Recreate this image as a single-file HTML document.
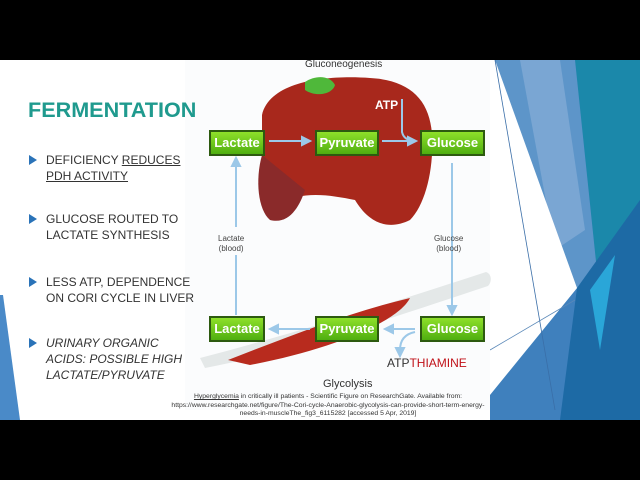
<!DOCTYPE html>
<html><head><meta charset="utf-8"><style>
body{margin:0;width:640px;height:480px;background:#000;overflow:hidden;position:relative;font-family:"Liberation Sans",sans-serif}
.slide{position:absolute;left:0;top:60px;width:640px;height:360px;background:#fff;overflow:hidden}
.t{position:absolute;white-space:nowrap}
.title{left:28px;top:37px;font-size:21.6px;font-weight:bold;color:#1f9a8e;letter-spacing:0px}
.b{left:46px;font-size:12px;color:#333;line-height:16px}
.bul{position:absolute;left:29px;width:0;height:0;border-left:8px solid #2a73b8;border-top:5px solid transparent;border-bottom:5px solid transparent}
.g{position:absolute;height:22px;background:linear-gradient(#8ee02a,#4fae10);border:2px solid #2d5a10;color:#fff;font-weight:bold;font-size:13px;line-height:22px;text-align:center;box-sizing:content-box}
.s{font-size:8px;color:#444;text-align:center}
</style></head><body>
<div class="slide">
<svg width="640" height="360" style="position:absolute;left:0;top:0">
<rect x="490" y="0" width="150" height="360" fill="#2f78b3"/>
<polygon points="575,0 640,0 640,170 600,240" fill="#1b88aa"/>
<polygon points="495,0 575,0 600,240 577,228 540,160" fill="#5d95c9"/>
<polygon points="520,0 560,0 585,170 555,190" fill="#7aa6d3"/>
<polygon points="520,120 577,228 530,300" fill="#a9c6e6"/>
<polygon points="577,228 640,140 640,360 540,360" fill="#1d6aa5"/>
<polygon points="590,230 615,195 600,290" fill="#2aa6d8"/>
<polygon points="490,335 577,228 560,360 490,360" fill="#3f80bd"/>
<polygon points="490,0 495,0 577,228 490,335" fill="#fff"/>
<line x1="495" y1="0" x2="555" y2="350" stroke="#3a6ea8" stroke-width="0.8"/>
<line x1="490" y1="290" x2="575" y2="240" stroke="#5a88b8" stroke-width="0.8"/>
<polygon points="0,235 3,235 20,360 0,360" fill="#4a8ac8"/>
<rect x="185" y="0" width="305" height="350" fill="#fbfcfd"/>
<path d="M262,55 C270,20 330,15 370,18 C410,20 430,40 432,75 C434,110 425,145 410,160 C390,170 370,165 355,140 C330,135 300,130 280,145 C260,170 268,140 262,110 Z" fill="#a8281c"/>
<path d="M262,95 C255,120 258,150 270,160 C290,165 300,145 305,130 Z" fill="#8a2a2a"/>
<path d="M305,22 C315,15 330,15 335,25 C332,35 315,37 305,30Z" fill="#4fb83a"/>
<path d="M200,298 C300,272 400,240 486,212 C492,214 492,222 488,226 C400,255 300,290 205,308 Z" fill="#e4e8e8"/>
<path d="M228,300 C290,276 350,252 410,238 C398,262 330,290 250,305 Z" fill="#b82b1e"/>
<g stroke="#9cc8e8" stroke-width="2" fill="#9cc8e8">
<line x1="269" y1="81" x2="305" y2="81"/><polygon points="310,81 302,77 302,85"/>
<line x1="382" y1="81" x2="410" y2="81"/><polygon points="416,81 408,77 408,85"/>
<line x1="236" y1="167" x2="236" y2="103"/><polygon points="236,98 232,106 240,106"/>
<line x1="452" y1="103" x2="452" y2="248"/><polygon points="452,254 448,246 456,246"/>
<line x1="310" y1="269" x2="275" y2="269"/><polygon points="270,269 278,265 278,273"/>
<line x1="415" y1="269" x2="390" y2="269"/><polygon points="385,269 393,265 393,273"/>
<path d="M402,39 L402,72 Q404,80 412,80" fill="none"/>
<path d="M415,272 Q400,275 400,290" fill="none"/><polygon points="400,296 396,288 404,288"/>
</g>
<line x1="236" y1="195" x2="236" y2="255" stroke="#9cc8e8" stroke-width="2"/>
</svg>
<div class="t title">FERMENTATION</div>
<div class="bul" style="top:95px"></div>
<div class="t b" style="top:92px">DEFICIENCY <u>REDUCES</u><br><u>PDH ACTIVITY</u></div>
<div class="bul" style="top:154px"></div>
<div class="t b" style="top:151px">GLUCOSE ROUTED TO<br>LACTATE SYNTHESIS</div>
<div class="bul" style="top:217px"></div>
<div class="t b" style="top:214px">LESS ATP, DEPENDENCE<br>ON CORI CYCLE IN LIVER</div>
<div class="bul" style="top:278px"></div>
<div class="t b" style="top:275px;font-style:italic">URINARY ORGANIC<br>ACIDS: POSSIBLE HIGH<br>LACTATE/PYRUVATE</div>
<div class="t" style="left:305px;top:-1px;font-size:10px;color:#333">Gluconeogenesis</div>
<div class="t" style="left:375px;top:38px;font-size:12px;color:#fff;font-weight:bold">ATP</div>
<div class="g" style="left:209px;top:70px;width:52px">Lactate</div>
<div class="g" style="left:315px;top:70px;width:60px">Pyruvate</div>
<div class="g" style="left:420px;top:70px;width:61px">Glucose</div>
<div class="g" style="left:209px;top:256px;width:52px">Lactate</div>
<div class="g" style="left:315px;top:256px;width:60px">Pyruvate</div>
<div class="g" style="left:420px;top:256px;width:61px">Glucose</div>
<div class="t s" style="left:218px;top:174px;line-height:10px">Lactate<br>(blood)</div>
<div class="t s" style="left:434px;top:174px;line-height:10px">Glucose<br>(blood)</div>
<div class="t" style="left:387px;top:296px;font-size:12px;color:#333">ATP<span style="color:#c01018">THIAMINE</span></div>
<div class="t" style="left:323px;top:318px;font-size:11px;color:#333">Glycolysis</div>
<div class="t" style="left:168px;top:333px;font-size:6.8px;color:#333;text-align:center;line-height:8.5px;width:320px;white-space:normal"><u style="color:#333">Hyperglycemia</u> in critically ill patients - Scientific Figure on ResearchGate. Available from: https://www.researchgate.net/figure/The-Cori-cycle-Anaerobic-glycolysis-can-provide-short-term-energy-needs-in-muscleThe_fig3_6115282 [accessed 5 Apr, 2019]</div>
</div>
</body></html>
